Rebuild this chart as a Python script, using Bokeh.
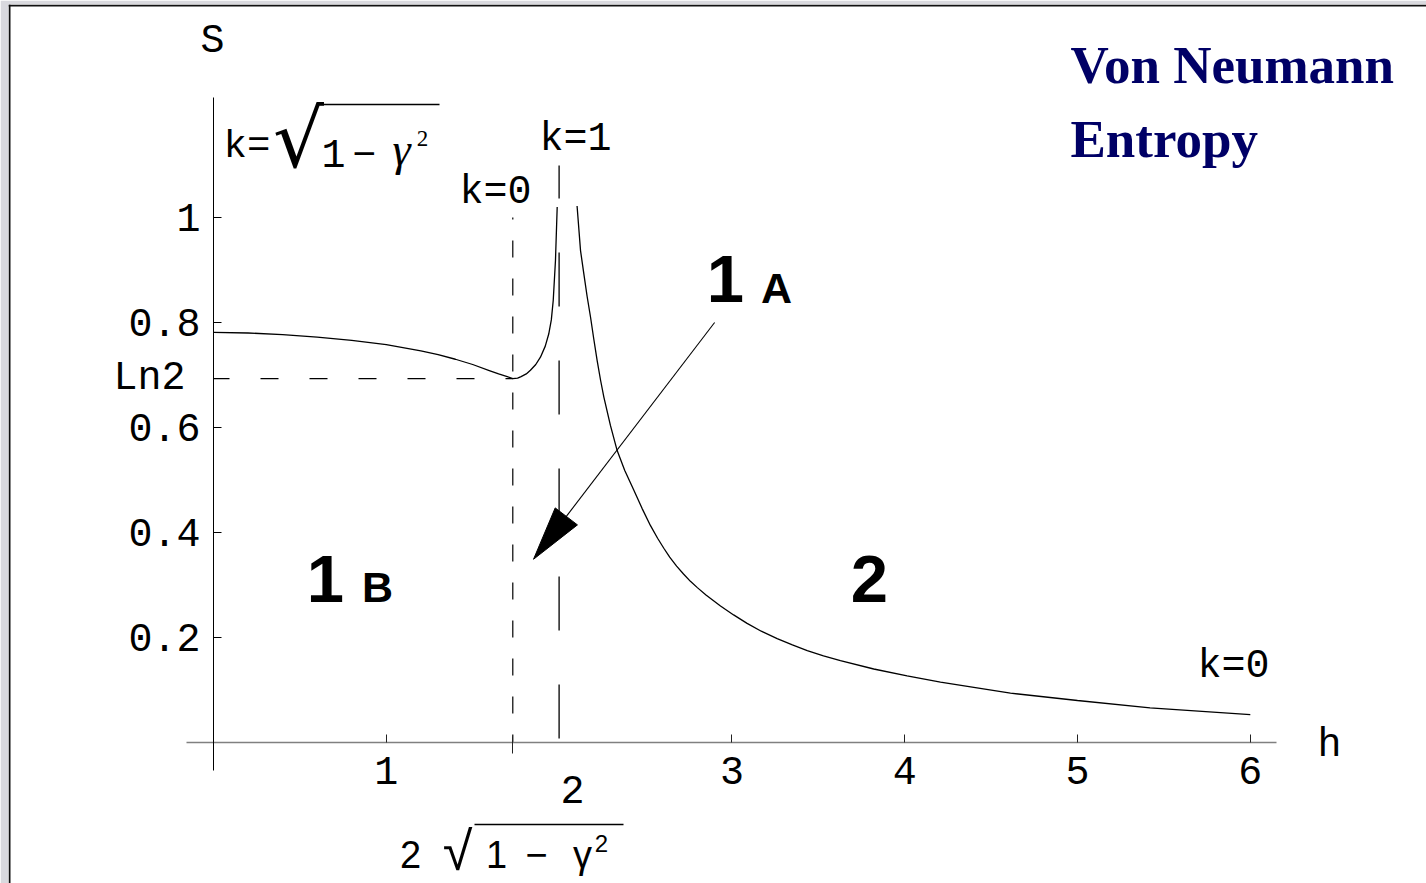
import math

from bokeh.core.properties import value
from bokeh.embed import file_html
from bokeh.models import FixedTicker, LinearAxis, Range1d, Span
from bokeh.plotting import figure
from bokeh.resources import INLINE

# ---- model parameters -------------------------------------------------
gamma = 0.5
h_min = 2 * math.sqrt(1 - gamma ** 2)   # k = 0 point, 2*sqrt(1-gamma^2)
ln2 = math.log(2)
h_crit = 2.0                            # k = 1 point

# ---- entropy curve, two branches around the critical field h = 2 -----
h_left = [0.0, 0.2, 0.4, 0.6, 0.8, 1.0, 1.2, 1.3, 1.4, 1.5, 1.6, 1.65,
          1.70, 1.732, 1.76, 1.78, 1.81, 1.834, 1.865, 1.892, 1.92, 1.94,
          1.955, 1.966, 1.979, 1.989]
s_left = [0.781, 0.780, 0.777, 0.772, 0.766, 0.758, 0.746, 0.739, 0.730,
          0.720, 0.708, 0.702, 0.697, 0.693, 0.694, 0.697, 0.702, 0.709,
          0.720, 0.734, 0.755, 0.778, 0.805, 0.842, 0.918, 1.020]

h_right = [2.104, 2.124, 2.143, 2.162, 2.182, 2.20, 2.22, 2.24, 2.259,
           2.297, 2.336, 2.38, 2.432, 2.48, 2.529, 2.57, 2.606, 2.64, 2.68,
           2.72, 2.76, 2.80, 2.85, 2.934, 3.01, 3.088, 3.17, 3.262, 3.35,
           3.436, 3.53, 3.628, 3.821, 4.014, 4.207, 4.40, 4.612, 5.0, 5.42,
           6.0]
s_right = [1.022, 0.937, 0.893, 0.850, 0.810, 0.770, 0.728, 0.690, 0.658,
           0.604, 0.556, 0.518, 0.481, 0.446, 0.413, 0.389, 0.370, 0.353,
           0.336, 0.321, 0.307, 0.295, 0.281, 0.260, 0.243, 0.227, 0.212,
           0.198, 0.186, 0.175, 0.165, 0.156, 0.140, 0.127, 0.115, 0.105,
           0.094, 0.080, 0.066, 0.053]

# ---- ticks ------------------------------------------------------------
x_ticks = [1, 3, 4, 5, 6]
x_tick_labels = ["1", "3", "4", "5", "6"]
y_ticks = [0.2, 0.4, 0.6, 0.8, 1.0]
y_tick_labels = ["0.2", "0.4", "0.6", "0.8", "1"]

# arrow from the "1 A" label down into region 1 B  (h, S)
arrow_tail = [2.90, 0.800]
arrow_tip = [1.852, 0.349]

# ---- canvas geometry --------------------------------------------------
W, H = 1426, 883
PAD_L, PAD_T = 8, 4
X0, Y0 = 213.0, 742.0          # pixel of (h=0, S=0)
PX_H, PX_S = 172.8, 525.0      # pixels per unit


def hx(px):
    return (px - X0) / PX_H


def sy(py):
    return (Y0 - py) / PX_S


def to_px(h, s):
    return X0 + h * PX_H, Y0 - s * PX_S


p = figure(
    width=W, height=H,
    x_range=Range1d(hx(PAD_L), hx(W)),
    y_range=Range1d(sy(H), sy(PAD_T)),
    output_backend="svg", toolbar_location=None,
    x_axis_location=None, y_axis_location=None,
    min_border_left=PAD_L, min_border_top=PAD_T,
    min_border_right=0, min_border_bottom=0,
    background_fill_color="white", border_fill_color="#d9d9de",
    outline_line_color=None,
)
p.xgrid.grid_line_color = None
p.ygrid.grid_line_color = None

# dark frame edge on the left and top
p.add_layout(Span(location=hx(PAD_L + 1), dimension="height",
                  line_color="#111111", line_width=2))
p.add_layout(Span(location=sy(PAD_T + 1), dimension="width",
                  line_color="#111111", line_width=2))

MONO = "Liberation Mono"
SANS = "Liberation Sans"
SERIF = "Liberation Serif"

# ---- axes crossing at the origin ---------------------------------------
xaxis = LinearAxis(
    fixed_location=0, bounds=(hx(186), hx(1276)),
    ticker=FixedTicker(ticks=x_ticks),
    major_label_overrides=dict(zip(x_ticks, x_tick_labels)),
    major_tick_in=8, major_tick_out=0, minor_tick_line_color=None,
    axis_line_color="#808080", axis_line_width=1.5,
    major_tick_line_color="#222222",
    major_label_standoff=14,
    major_label_text_font=MONO, major_label_text_font_size="40px",
    major_label_text_color="black",
)
p.add_layout(xaxis, "below")

kzero_axis = LinearAxis(
    fixed_location=0, ticker=FixedTicker(ticks=[h_min]),
    major_tick_in=6, major_tick_out=11, minor_tick_line_color=None,
    axis_line_color=None, major_tick_line_color="#222222",
    major_label_text_color=None, major_label_text_font_size="1px",
)
p.add_layout(kzero_axis, "below")

yaxis = LinearAxis(
    fixed_location=0, bounds=(sy(770), sy(97)),
    ticker=FixedTicker(ticks=y_ticks),
    major_label_overrides=dict(zip(y_ticks, y_tick_labels)),
    major_tick_in=8, major_tick_out=0, minor_tick_line_color=None,
    axis_line_color="black", axis_line_width=1,
    major_tick_line_color="black",
    major_label_standoff=13,
    major_label_text_font=MONO, major_label_text_font_size="40px",
    major_label_text_color="black",
)
p.add_layout(yaxis, "left")

ln2_axis = LinearAxis(
    fixed_location=0, ticker=FixedTicker(ticks=[ln2]),
    major_label_overrides={ln2: "Ln2"},
    major_tick_in=8, major_tick_out=0, minor_tick_line_color=None,
    axis_line_color=None, major_tick_line_color="black",
    major_label_standoff=28,
    major_label_text_font=MONO, major_label_text_font_size="40px",
    major_label_text_color="black",
)
p.add_layout(ln2_axis, "left")

# ---- reference lines ----------------------------------------------------
p.line([0, h_min], [ln2, ln2], line_color="black", line_width=1.2,
       line_dash="18 31", line_dash_offset=2)
p.line([h_min, h_min], [sy(217), 0], line_color="black", line_width=1.2,
       line_dash="17 21", line_dash_offset=15)
p.line([h_crit, h_crit], [sy(165), 0], line_color="black", line_width=1.3,
       line_dash="54 54", line_dash_offset=21)

# ---- entropy curve ------------------------------------------------------
p.line(h_left, s_left, line_color="black", line_width=1.3)
p.line(h_right, s_right, line_color="black", line_width=1.3)

# ---- arrow ------------------------------------------------------------
tx, ty = to_px(*arrow_tip)
ax, ay = to_px(*arrow_tail)
d = math.hypot(ax - tx, ay - ty)
ux, uy = (ax - tx) / d, (ay - ty) / d
head_len, head_half = 54.0, 14.0
bx, by = tx + ux * head_len, ty + uy * head_len
nx, ny = -uy, ux
head_px = [(tx, ty), (bx + nx * head_half, by + ny * head_half),
           (bx - nx * head_half, by - ny * head_half)]
p.line([arrow_tail[0], hx(bx)], [arrow_tail[1], sy(by)],
       line_color="black", line_width=1.1)
p.patch([hx(x) for x, _ in head_px], [sy(y) for _, y in head_px],
        fill_color="black", line_color="black", line_width=1)


# ---- text ---------------------------------------------------------------
# the text box is placed below its anchor by a font dependent amount;
# lift each anchor so that the glyphs sit on the wanted baseline
LIFT = {MONO: 0.28, SANS: 0.36, SERIF: 0.38}


def label(px, py, text, font, size, align="center", color="black",
          style="normal", lift=None):
    k = LIFT.get(font, 0.0) if lift is None else lift
    p.text(x=[hx(px)], y=[sy(py - k * size)], text=[text],
           text_font=value(font), text_font_size=value(f"{size}px"),
           text_align=align, text_baseline="alphabetic",
           text_color=color, text_font_style=style)


label(212, 52, "S", MONO, 40)
label(1329, 756, "h", MONO, 40)
label(572, 800, "2", MONO, 40)
label(575, 150, "k=1", MONO, 40)
label(495, 203, "k=0", MONO, 40)
label(1233, 677, "k=0", MONO, 40)

# k = sqrt(1 - gamma^2) at h = 0
label(223, 157, "k=", MONO, 39, align="left")
label(298, 139, "\u221a", "DejaVu Serif", 80, lift=0.0)
label(333, 164, "1", MONO, 40)
label(364, 164, "\u2212", MONO, 40)
label(401, 166, "\u03b3", SERIF, 46, style="italic")
label(422, 147, "2", SERIF, 23)
p.line([hx(316), hx(439)], [sy(104), sy(104)], line_color="black",
       line_width=1.6)

# 2 sqrt(1 - gamma^2) under the k = 0 tick
label(410, 868, "2", SANS, 38)
label(457, 870, "\u221a", SANS, 54)
label(496, 868, "1", SANS, 38)
label(536, 868, "\u2212", SANS, 38)
label(582, 868, "\u03b3", SANS, 38)
label(601, 852, "2", SANS, 24)
p.line([hx(474), hx(623)], [sy(824), sy(824)], line_color="black",
       line_width=1.6)

# region labels
label(725, 303, "1", SANS, 67, style="bold")
label(776, 303, "A", SANS, 43, style="bold")
label(325, 603, "1", SANS, 67, style="bold")
label(377, 602, "B", SANS, 43, style="bold")
label(869, 603, "2", SANS, 67, style="bold")

# title
NAVY = "#000066"
label(1070, 85, "Von Neumann", SERIF, 53, align="left",
      color=NAVY, style="bold")
label(1070, 159, "Entropy", SERIF, 53, align="left",
      color=NAVY, style="bold")

open("out.html", "w").write(file_html(p, INLINE))
